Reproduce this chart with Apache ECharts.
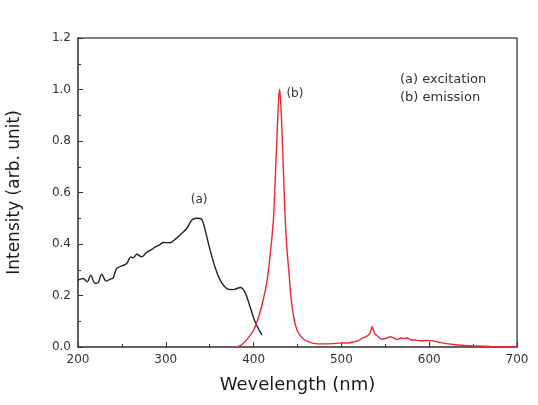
<!DOCTYPE html>
<html>
<head>
<meta charset="utf-8">
<script src="https://cdn.jsdelivr.net/npm/echarts@6/dist/echarts.min.js"></script>
<style>
  html, body { margin: 0; padding: 0; background: #fff; }
  #main { width: 538px; height: 405px; }
</style>
</head>
<body>
<div id="main"></div>
<script>
// excitation spectrum (a)
var excWave = [200, 206, 210.6, 214.4, 219.4, 223, 227, 232, 236.5, 240, 244, 250, 255.5, 260, 263, 267,
  272.4, 278, 284, 288, 293.5, 297, 305, 310.6, 318, 324, 329.6, 335, 340.6, 344.8, 350.5, 356, 362,
  369.5, 377, 384.7, 390, 396, 401.8, 409.5];
var excVal = [0.26, 0.266, 0.253, 0.279, 0.247, 0.25, 0.283, 0.256, 0.263, 0.268, 0.305, 0.315, 0.324, 0.35, 0.346, 0.36,
  0.35, 0.367, 0.379, 0.389, 0.398, 0.406, 0.405, 0.418, 0.441, 0.461, 0.493, 0.5, 0.497, 0.454, 0.376, 0.311, 0.26,
  0.227, 0.223, 0.231, 0.214, 0.156, 0.097, 0.046];

// emission spectrum (b)
var emWave = [380, 385, 390, 395, 400, 405, 410, 415, 418, 421, 423, 425, 427, 428.5, 429.5, 430.5, 432, 434, 436, 438,
  440, 443, 446, 449, 453, 457, 463, 470, 480, 490, 500, 507, 514, 520, 525, 529, 532, 534, 535, 536.5, 538,
  542, 546, 551, 556, 560, 564, 568, 571, 575, 579, 584, 590, 597, 605, 612, 620, 630, 640, 655, 670, 685, 700];
var emVal = [0, 0.005, 0.02, 0.04, 0.065, 0.11, 0.17, 0.25, 0.33, 0.43, 0.52, 0.68, 0.85, 0.96, 1.0, 0.97, 0.87, 0.68, 0.5, 0.38,
  0.3, 0.18, 0.11, 0.07, 0.045, 0.03, 0.02, 0.013, 0.012, 0.013, 0.016, 0.015, 0.02, 0.026, 0.036, 0.042, 0.05, 0.068, 0.08, 0.065, 0.052,
  0.04, 0.03, 0.034, 0.04, 0.034, 0.029, 0.036, 0.033, 0.035, 0.028, 0.027, 0.024, 0.025, 0.024, 0.018, 0.013, 0.009, 0.006, 0.004, 0.002, 0.001, 0];

var legendLines = ['(a) excitation', '(b) emission'];

function pairs(xs, ys) {
  return xs.map(function (x, i) { return [x, ys[i]]; });
}

var chart = echarts.init(document.getElementById('main'));
var font = '"DejaVu Sans", Verdana, sans-serif';

var option = {
  animation: false,
  textStyle: { fontFamily: font },
  grid: {
    left: 78, right: 21, top: 38, bottom: 58,
    outerBoundsMode: 'none', containLabel: false,
    show: true, borderColor: '#5a5a5a', borderWidth: 1.6
  },
  xAxis: {
    type: 'value', min: 200, max: 700, interval: 100,
    name: 'Wevelength (nm)', nameLocation: 'middle', nameGap: 29,
    nameTextStyle: { fontSize: 18, color: '#1a1a1a', fontFamily: font },
    axisLine: { show: true, lineStyle: { color: '#5a5a5a', width: 1.6 } },
    axisTick: { inside: true, length: 5, lineStyle: { color: '#333' } },
    minorTick: { show: true, splitNumber: 2, length: 3, lineStyle: { color: '#333' } },
    axisLabel: { fontSize: 12, color: '#333', margin: 7, fontFamily: font },
    splitLine: { show: false }
  },
  yAxis: {
    type: 'value', min: 0, max: 1.2, interval: 0.2,
    name: 'Intensity (arb. unit)', nameLocation: 'middle', nameGap: 55,
    nameTextStyle: { fontSize: 17, color: '#1a1a1a', fontFamily: font },
    axisLine: { show: true, lineStyle: { color: '#5a5a5a', width: 1.6 } },
    axisTick: { inside: true, length: 5, lineStyle: { color: '#333' } },
    minorTick: { show: true, splitNumber: 2, length: 3, lineStyle: { color: '#333' } },
    axisLabel: {
      fontSize: 12, color: '#333', margin: 7, fontFamily: font,
      formatter: function (v) { return v.toFixed(1); }
    },
    splitLine: { show: false }
  },
  graphic: [{
    type: 'text', left: 400, top: 71,
    style: { text: legendLines.join('\n'), font: '13px ' + font, fill: '#333', lineHeight: 18 }
  }],
  series: [
    {
      name: 'excitation', type: 'line', data: pairs(excWave, excVal),
      showSymbol: false, smooth: 0.3,
      lineStyle: { color: '#222', width: 1.4 },
      markPoint: {
        symbol: 'circle', symbolSize: 0,
        label: { show: true, formatter: '(a)', fontSize: 12, color: '#333', position: 'inside', fontFamily: font },
        data: [{ coord: [338, 0.571] }]
      }
    },
    {
      name: 'emission', type: 'line', data: pairs(emWave, emVal),
      showSymbol: false, smooth: 0.2,
      lineStyle: { color: '#ee2630', width: 1.4 },
      markPoint: {
        symbol: 'circle', symbolSize: 0,
        label: { show: true, formatter: '(b)', fontSize: 12, color: '#333', position: 'inside', fontFamily: font },
        data: [{ coord: [447, 0.983] }]
      }
    }
  ]
};

chart.setOption(option);
</script>
</body>
</html>
